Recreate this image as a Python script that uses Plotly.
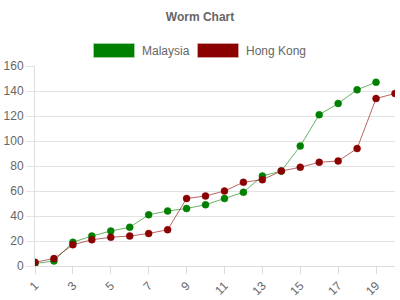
import plotly.graph_objects as go

categories = list(range(1, 21))
malaysia = [2, 4, 19, 24, 28, 31, 41, 44, 46, 49, 54, 59, 72, 76, 96, 121, 130, 141, 147]
hong_kong = [3, 6, 17, 21, 23, 24, 26, 29, 54, 56, 60, 67, 69, 76, 79, 83, 84, 94, 134, 138]
tick_vals = [1, 3, 5, 7, 9, 11, 13, 15, 17, 19]
tick_text = [str(v) for v in tick_vals]
series_names = ["Malaysia", "Hong Kong"]

FONT = "Liberation Sans, Arial, sans-serif"
GREY = "#666666"

fig = go.Figure()
fig.add_trace(go.Scatter(
    x=categories[:len(malaysia)], y=malaysia, name=series_names[0], mode="lines+markers",
    line=dict(color="rgba(0,128,0,0.6)", width=1),
    marker=dict(size=7, color="#008000", line=dict(color="rgba(0,128,0,0.45)", width=1)),
    showlegend=False))
fig.add_trace(go.Scatter(
    x=categories[:len(hong_kong)], y=hong_kong, name=series_names[1], mode="lines+markers",
    line=dict(color="rgba(139,0,0,0.6)", width=1),
    marker=dict(size=7, color="#8b0000", line=dict(color="rgba(139,0,0,0.45)", width=1)),
    showlegend=False))

# legend drawn as boxes + labels (Chart.js style)
def px_x(p):
    return (p - 35) / 360.0
def px_y(p):
    return (266 - p) / 200.0

legend_items = [
    (94, 134, 140, "#008000", "rgba(0,128,0,0.5)", series_names[0]),
    (198, 238, 244, "#8b0000", "rgba(139,0,0,0.5)", series_names[1]),
]
for x0, x1, tx, fill, border, label in legend_items:
    fig.add_shape(type="rect", xref="paper", yref="paper",
                  x0=px_x(x0), x1=px_x(x1), y0=px_y(57), y1=px_y(44),
                  fillcolor=fill, line=dict(color=border, width=1.5))
    fig.add_annotation(xref="paper", yref="paper", x=px_x(tx), y=px_y(50.5),
                       text=label, showarrow=False, xanchor="left", yanchor="middle",
                       font=dict(family=FONT, size=12, color=GREY))

fig.update_layout(
    width=400, height=300,
    margin=dict(l=35, r=5, t=66, b=34),
    paper_bgcolor="white", plot_bgcolor="white",
    title=dict(text="<b>Worm Chart</b>", x=0.5, xanchor="center", y=(300 - 17) / 300, yanchor="middle",
               font=dict(family=FONT, size=12, color=GREY)),
    xaxis=dict(range=[1, 20], tickvals=tick_vals, ticktext=tick_text, tickangle=-45,
               automargin=False,
               showgrid=False, zeroline=False, showline=True, linecolor="#dddddd", linewidth=1,
               ticks="outside", ticklen=7, tickcolor="#dddddd",
               tickfont=dict(family=FONT, size=12, color=GREY)),
    yaxis=dict(range=[0, 160], dtick=20, showgrid=True, gridcolor="#e3e3e3", gridwidth=1,
               automargin=False,
               zeroline=False, showline=True, linecolor="#dddddd", linewidth=1,
               ticks="outside", ticklen=8, tickcolor="#e3e3e3",
               tickfont=dict(family=FONT, size=12, color=GREY)),
    showlegend=False,
)

fig.write_html("out.html")
